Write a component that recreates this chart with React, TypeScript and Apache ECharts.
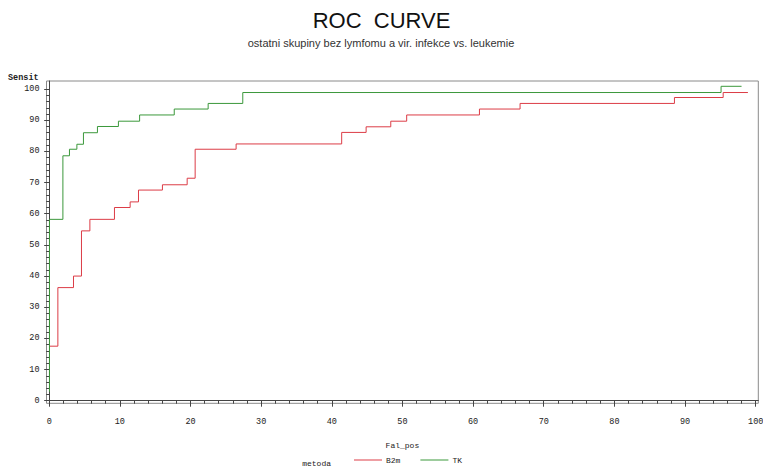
import React, { useEffect, useRef } from "react";
import * as echarts from "echarts";

// ---- data (x = Fal_pos, y = Sensit) ----
const b2mFalPos = [0.04, 1.23, 3.44, 4.57, 5.76, 9.24, 11.46, 12.64, 16.03, 19.53, 20.66, 26.46, 41.4, 44.86, 48.35, 50.6, 60.9, 66.65, 88.5, 95.4, 98.9];
const b2mSensit = [17.5, 36.3, 40.0, 54.5, 58.2, 62.0, 63.8, 67.6, 69.3, 71.4, 80.7, 82.4, 86.1, 87.9, 89.7, 91.7, 93.6, 95.4, 97.3, 98.9, 98.9];
const tkFalPos = [0.04, 0.04, 1.94, 2.87, 3.92, 4.85, 6.83, 9.8, 12.8, 17.7, 22.5, 27.4, 95.1, 98.0];
const tkSensit = [2.9, 58.2, 78.6, 80.7, 82.3, 86.0, 88.0, 89.7, 91.7, 93.6, 95.4, 98.9, 100.9, 100.9];

const xMajorTicks = [0, 10, 20, 30, 40, 50, 60, 70, 80, 90, 100];
const yMajorTicks = [0, 10, 20, 30, 40, 50, 60, 70, 80, 90, 100];
const minorTicks = [0, 2, 4, 6, 8, 10, 12, 14, 16, 18, 20, 22, 24, 26, 28, 30, 32, 34, 36, 38, 40, 42, 44, 46, 48, 50, 52, 54, 56, 58, 60, 62, 64, 66, 68, 70, 72, 74, 76, 78, 80, 82, 84, 86, 88, 90, 92, 94, 96, 98, 100];

const seriesNames = ["B2m", "TK"];
const seriesColors = ["#dc3c46", "#3b983b"];

const MONO = "'Liberation Mono', 'DejaVu Sans Mono', monospace";
const SANS = "'Liberation Sans', Arial, sans-serif";

export default function App() {
  const ref = useRef<HTMLDivElement>(null);

  useEffect(() => {
    document.body.style.margin = "0";
    const chart = echarts.init(ref.current!, null, { renderer: "svg" });

    const X_MIN = -0.38, X_MAX = 100.37, Y_MIN = -0.83, Y_MAX = 102.6;
    const axisText = { fontFamily: MONO, fontSize: 8.5, color: "#222" };

    const option: any = {
      animation: false,
      backgroundColor: "#fff",
      grid: {
        left: 46.5, right: 4.7, top: 81, bottom: 64.7,
        show: true, borderColor: "#8a8a8a", borderWidth: 1,
        outerBoundsMode: "none",
      },
      xAxis: [
        {
          type: "value", min: X_MIN, max: X_MAX,
          axisLine: { show: true, lineStyle: { color: "#444", width: 1 } },
          axisTick: { show: true, customValues: xMajorTicks, length: 6, lineStyle: { color: "#444" } },
          axisLabel: { customValues: xMajorTicks, margin: 14, ...axisText },
          splitLine: { show: false },
          name: "Fal_pos", nameLocation: "middle", nameGap: 38,
          nameTextStyle: { fontFamily: MONO, fontSize: 8, color: "#222" },
        },
        {
          type: "value", min: X_MIN, max: X_MAX, position: "bottom",
          axisLine: { show: false },
          axisTick: { show: true, customValues: minorTicks, length: 3, lineStyle: { color: "#444" } },
          axisLabel: { show: false },
          splitLine: { show: false },
        },
      ],
      yAxis: [
        {
          type: "value", min: Y_MIN, max: Y_MAX,
          axisLine: { show: true, lineStyle: { color: "#444", width: 1 } },
          axisTick: { show: true, customValues: yMajorTicks, length: 5, lineStyle: { color: "#444" } },
          axisLabel: { customValues: yMajorTicks, margin: 7, ...axisText },
          splitLine: { show: false },
        },
        {
          type: "value", min: Y_MIN, max: Y_MAX, position: "left",
          axisLine: { show: false },
          axisTick: { show: true, customValues: minorTicks, length: 3, lineStyle: { color: "#444" } },
          axisLabel: { show: false },
          splitLine: { show: false },
        },
      ],
      legend: {
        data: seriesNames.map((n) => ({ name: n, icon: "rect" })),
        left: 354, top: 456, padding: 0,
        itemWidth: 28, itemHeight: 1, itemGap: 20,
        textStyle: { fontFamily: MONO, fontSize: 8, color: "#222", padding: [3, 0, 0, -1] },
      },
      series: [
        {
          name: seriesNames[0], type: "line", step: "end",
          data: b2mFalPos.map((x, i) => [x, b2mSensit[i]]),
          showSymbol: false, symbol: "none",
          lineStyle: { color: seriesColors[0], width: 1 },
          itemStyle: { color: seriesColors[0] },
        },
        {
          name: seriesNames[1], type: "line", step: "end",
          data: tkFalPos.map((x, i) => [x, tkSensit[i]]),
          showSymbol: false, symbol: "none",
          lineStyle: { color: seriesColors[1], width: 1 },
          itemStyle: { color: seriesColors[1] },
        },
      ],
      graphic: [
        {
          type: "text", left: "center", top: 9,
          style: { text: "ROC  CURVE", fontFamily: SANS, fontSize: 22, fill: "#111" },
        },
        {
          type: "text", x: 381, y: 43,
          style: {
            text: "ostatni skupiny bez lymfomu a vir. infekce vs. leukemie",
            fontFamily: SANS, fontSize: 11, fill: "#333",
            textAlign: "center", textVerticalAlign: "middle",
          },
        },
        {
          type: "text", x: 8, y: 78,
          style: { text: "Sensit", fontFamily: MONO, fontSize: 8.5, fontWeight: "bold", fill: "#222", textVerticalAlign: "middle" },
        },
        {
          type: "text", x: 331, y: 463,
          style: { text: "metoda", fontFamily: MONO, fontSize: 8, fill: "#222", textAlign: "right", textVerticalAlign: "middle" },
        },
      ],
    };

    chart.setOption(option);
    return () => chart.dispose();
  }, []);

  return (
    <div
      ref={ref}
      style={{ position: "absolute", left: 0, top: 0, width: 763, height: 468 }}
    />
  );
}
